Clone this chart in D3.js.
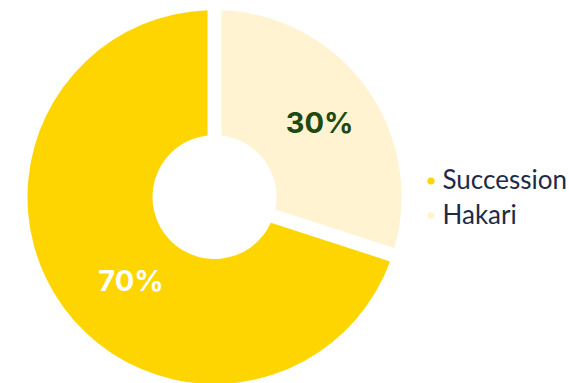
<!DOCTYPE html>
<html>
<head>
<meta charset="utf-8">
<script src="https://cdn.jsdelivr.net/npm/d3@7"></script>
<style>
  html, body { margin: 0; padding: 0; background: #ffffff; }
  svg { display: block; }
</style>
</head>
<body>
<svg id="chart" width="569" height="383"></svg>
<script>
// Share of each group, in percent
const categories = ["Succession", "Hakari"];
const values = [70, 30];
const sliceColors = ["#FFD500", "#FFF3D1"];
const labelColors = ["#FFFFFF", "#1C4A12"];

const width = 569, height = 383;
const cx = 214.5, cy = 197;
const outerR = 187, innerR = 62;

const svg = d3.select("#chart");

const total = d3.sum(values);
// Succession follows Hakari clockwise, so Hakari's slice sits at 12 o'clock
const start = (values[1] / total) * 2 * Math.PI;

const pie = d3.pie()
  .sort(null)
  .value(d => d)
  .startAngle(start)
  .endAngle(start + 2 * Math.PI);

const arcs = pie(values);

const arc = d3.arc()
  .innerRadius(innerR)
  .outerRadius(outerR)
  .padAngle(0.071);

const g = svg.append("g").attr("transform", `translate(${cx},${cy})`);

g.selectAll("path.slice")
  .data(arcs)
  .join("path")
  .attr("class", "slice")
  .attr("d", arc)
  .attr("fill", (d, i) => sliceColors[i]);

// Percentage labels inside each slice
const labelRadius = [118, 129];
const labelAngleShift = [-0.157, 0.01];
g.selectAll("text.pct")
  .data(arcs)
  .join("text")
  .attr("class", "pct")
  .attr("transform", (d, i) => {
    const a = (d.startAngle + d.endAngle) / 2 + labelAngleShift[i];
    const r = labelRadius[i];
    return `translate(${Math.sin(a) * r},${-Math.cos(a) * r})`;
  })
  .attr("text-anchor", "middle")
  .attr("dy", "0.36em")
  .attr("font-family", "Inter, Lato, sans-serif")
  .attr("font-weight", 700)
  .attr("font-size", 29)
  .attr("fill", (d, i) => labelColors[i])
  .text(d => `${d.value}%`);

// Legend
const legend = svg.append("g").attr("transform", "translate(431,181)");
const item = legend.selectAll("g")
  .data(categories)
  .join("g")
  .attr("transform", (d, i) => `translate(0,${i * 34.5})`);

item.append("circle")
  .attr("r", 3.6)
  .attr("fill", (d, i) => sliceColors[i]);

item.append("text")
  .attr("x", 11.5)
  .attr("y", 8)
  .attr("font-family", "Lato, 'Open Sans', sans-serif")
  .attr("font-size", 26)
  .attr("fill", "#1E2B48")
  .text(d => d);
</script>
</body>
</html>
